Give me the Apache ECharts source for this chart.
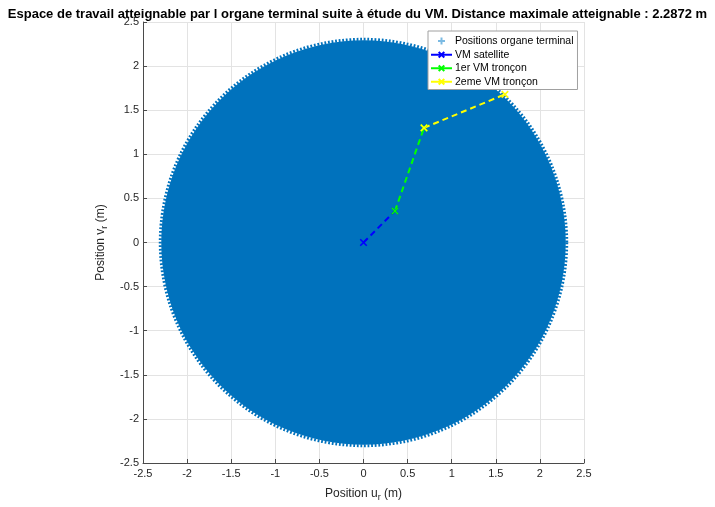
<!DOCTYPE html>
<html><head><meta charset="utf-8">
<script src="https://cdn.jsdelivr.net/npm/echarts@6/dist/echarts.min.js"></script>
<style>html,body{margin:0;padding:0;background:#fff}#c{width:715px;height:507px}</style>
</head><body><div id="c"></div>
<script>
// ---- data ----
const titleText = "Espace de travail atteignable par l organe terminal suite à étude du VM. Distance maximale atteignable : 2.2872 m";
const maxDistance = 2.2872;            // radius of the reachable workspace (m)
const workspaceCenter = [0, 0];
const vmSatellite = [[0, 0], [0.357, 0.357]];
const vm1 = [[0.357, 0.357], [0.686, 1.30]];
const vm2 = [[0.686, 1.30], [1.604, 1.68]];
const axisMin = -2.5, axisMax = 2.5, axisStep = 0.5;
const seriesNames = ["Positions organe terminal", "VM satellite", "1er VM tronçon", "2eme VM tronçon"];

const FONT = "Liberation Sans, Arial, Helvetica, sans-serif";
const X_PATH = 'path://M0,0L10,10M10,0L0,10';
const PLUS_PATH = 'path://M5,0L5,10M0,5L10,5';
const DISK = '#0072BD';

function vmSeries(name, data, color) {
  return {
    type: 'line', name, data, z: 5,
    symbol: X_PATH, symbolSize: 6.5, showSymbol: true,
    lineStyle: { color, width: 2, type: [6, 4] },
    itemStyle: { color: 'none', borderColor: color, borderWidth: 1.6 },
    animation: false
  };
}

const chart = echarts.init(document.getElementById('c'), null, { renderer: 'canvas' });
const axisCommon = {
  type: 'value', min: axisMin, max: axisMax, interval: axisStep,
  axisLine: { show: true, onZero: false, lineStyle: { color: '#4a4a4a', width: 1 } },
  axisTick: { show: true, inside: true, length: 4, lineStyle: { color: '#4a4a4a' } },
  splitLine: { show: true, lineStyle: { color: '#e3e3e3', width: 1 } },
  axisLabel: { color: '#262626', fontFamily: FONT, fontSize: 11, margin: 5 },
  nameLocation: 'middle',
  nameTextStyle: { color: '#262626', fontFamily: FONT, fontSize: 12,
    rich: { sub: { fontSize: 9, verticalAlign: 'bottom', padding: [8, 0, 0, 0], color: '#262626', fontFamily: FONT } } }
};

chart.setOption({
  animation: false,
  title: {
    text: titleText, left: 'center', top: 3,
    textStyle: { fontFamily: FONT, fontSize: 13, fontWeight: 'bold', color: '#000' }
  },
  grid: { left: 143, top: 22, width: 441, height: 441, containLabel: false },
  xAxis: Object.assign({}, axisCommon, { name: 'Position u{sub|r} (m)', nameGap: 22 }),
  yAxis: Object.assign({}, axisCommon, { name: 'Position v{sub|r} (m)', nameGap: 23,
    axisLabel: Object.assign({}, axisCommon.axisLabel, { margin: 4 }) }),
  legend: {
    orient: 'vertical', left: 428, top: 31,
    backgroundColor: '#fff', borderColor: '#a0a0a0', borderWidth: 1,
    padding: [4, 4, 2, 2], itemWidth: 21, itemHeight: 7, itemGap: 2,
    lineStyle: { type: 'solid' },
    textStyle: { fontFamily: FONT, fontSize: 10.5, color: '#000', lineHeight: 11.5, padding: [0, 0, 0, -2] },
    data: seriesNames
  },
  series: [
    {
      type: 'custom', name: 'disk', z: 2, silent: true, animation: false,
      data: [[workspaceCenter[0], workspaceCenter[1], maxDistance]],
      renderItem: function (params, api) {
        const c = api.coord([api.value(0), api.value(1)]);
        const r = api.size([api.value(2), 0])[0];
        return {
          type: 'group', children: [
            { type: 'circle', shape: { cx: c[0], cy: c[1], r: r + 0.5 }, style: { fill: DISK } },
            { type: 'circle', shape: { cx: c[0], cy: c[1], r: r + 1.5 },
              style: { fill: null, stroke: DISK, lineWidth: 3, lineDash: [1.8, 1.8] } }
          ]
        };
      }
    },
    {
      type: 'scatter', name: seriesNames[0], data: [],
      symbol: PLUS_PATH, symbolSize: 8,
      itemStyle: { color: 'none', borderColor: '#5aa9dc', borderWidth: 1 }
    },
    vmSeries(seriesNames[1], vmSatellite, '#0000ff'),
    vmSeries(seriesNames[2], vm1, '#00ff00'),
    vmSeries(seriesNames[3], vm2, '#ffff00')
  ]
});
</script></body></html>
